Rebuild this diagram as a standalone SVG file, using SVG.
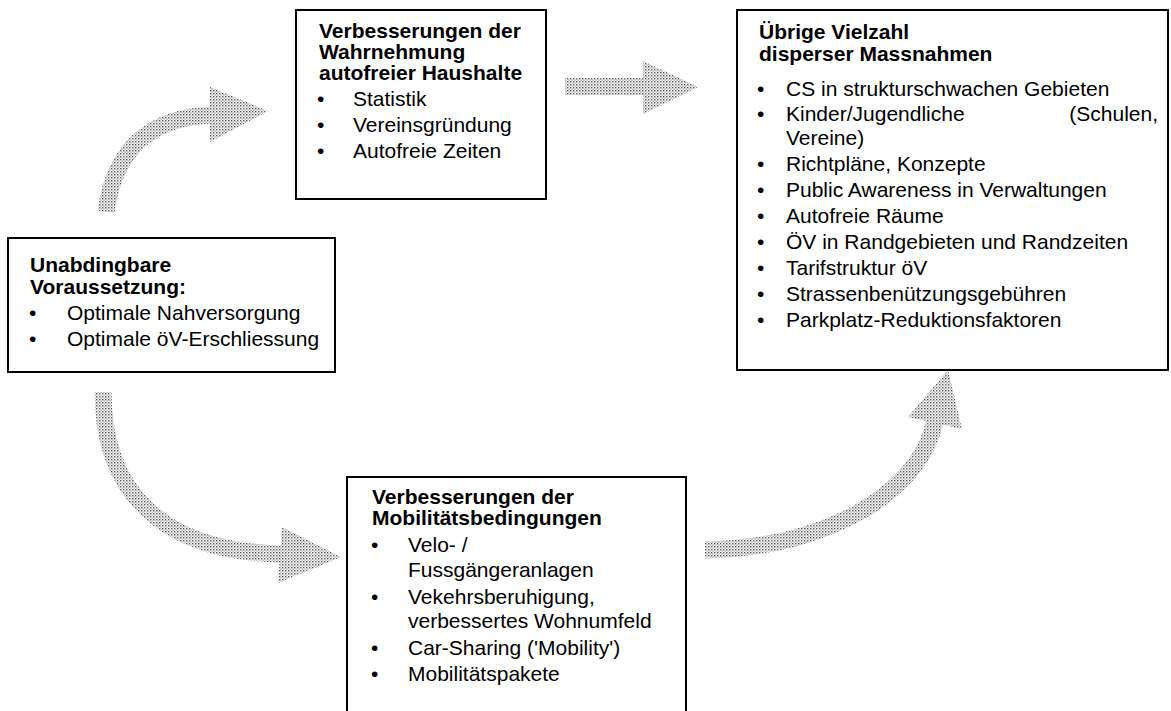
<svg xmlns="http://www.w3.org/2000/svg" width="1171" height="711" viewBox="0 0 1171 711">
  <defs>
    <!-- stippled screen used for the flow arrows -->
    <pattern id="stipple" width="3" height="3" patternUnits="userSpaceOnUse">
      <rect width="3" height="3" fill="#ffffff"/>
      <rect x="0" y="0" width="1.4" height="1.4" fill="#555"/>
      <rect x="1.5" y="1.5" width="1.2" height="1.2" fill="#888"/>
    </pattern>
    <style>
      .box { fill: #fff; stroke: #000; stroke-width: 2; }
      .t { font-family: "Liberation Sans", Arial, sans-serif; font-size: 21px; fill: #000; }
      .h { font-weight: bold; }
      .body { fill: none; stroke: url(#stipple); stroke-width: 17; }
      .head { fill: url(#stipple); stroke: none; }
    </style>
  </defs>

  <!-- flow arrows -->
  <g id="connectors">
    <path class="body" d="M106,212 C114,150 150,117 212,115"/>
    <polygon class="head" points="210,87 268,111 210,142"/>

    <path class="body" d="M565,86.5 L645,86.5"/>
    <polygon class="head" points="643,61 698,87 643,114"/>

    <path class="body" d="M103,392 C103,490 160,552 282,554"/>
    <polygon class="head" points="282,527 341,557 278,583"/>

    <path class="body" d="M705,550 C830,548 922,490 935,420"/>
    <polygon class="head" points="908,417 948,370 962,429"/>
  </g>

  <!-- prerequisite -->
  <g id="node-voraussetzung">
    <rect class="box" x="8" y="238" width="327" height="134"/>
    <text class="t h" x="30" y="272">Unabdingbare</text>
    <text class="t h" x="30" y="294">Voraussetzung:</text>
    <text class="t" x="29" y="320">•</text>
    <text class="t" x="67" y="320">Optimale Nahversorgung</text>
    <text class="t" x="29" y="346">•</text>
    <text class="t" x="67" y="346">Optimale öV-Erschliessung</text>
  </g>

  <!-- perception -->
  <g id="node-wahrnehmung">
    <rect class="box" x="296" y="10" width="250" height="189"/>
    <text class="t h" x="319" y="38">Verbesserungen der</text>
    <text class="t h" x="319" y="59">Wahrnehmung</text>
    <text class="t h" x="319" y="80">autofreier Haushalte</text>
    <text class="t" x="317" y="106">•</text>
    <text class="t" x="353" y="106">Statistik</text>
    <text class="t" x="317" y="132">•</text>
    <text class="t" x="353" y="132">Vereinsgründung</text>
    <text class="t" x="317" y="158">•</text>
    <text class="t" x="353" y="158">Autofreie Zeiten</text>
  </g>

  <!-- other measures -->
  <g id="node-massnahmen">
    <rect class="box" x="737" y="10" width="431" height="360"/>
    <text class="t h" x="759" y="39">Übrige Vielzahl</text>
    <text class="t h" x="759" y="61">disperser Massnahmen</text>
    <text class="t" x="757" y="96">•</text>
    <text class="t" x="786" y="96">CS in strukturschwachen Gebieten</text>
    <text class="t" x="757" y="121">•</text>
    <text class="t" x="786" y="121">Kinder/Jugendliche</text>
    <text class="t" x="1158" y="121" text-anchor="end">(Schulen,</text>
    <text class="t" x="786" y="145">Vereine)</text>
    <text class="t" x="757" y="171">•</text>
    <text class="t" x="786" y="171">Richtpläne, Konzepte</text>
    <text class="t" x="757" y="197">•</text>
    <text class="t" x="786" y="197">Public Awareness in Verwaltungen</text>
    <text class="t" x="757" y="223">•</text>
    <text class="t" x="786" y="223">Autofreie Räume</text>
    <text class="t" x="757" y="249">•</text>
    <text class="t" x="786" y="249">ÖV in Randgebieten und Randzeiten</text>
    <text class="t" x="757" y="275">•</text>
    <text class="t" x="786" y="275">Tarifstruktur öV</text>
    <text class="t" x="757" y="301">•</text>
    <text class="t" x="786" y="301">Strassenbenützungsgebühren</text>
    <text class="t" x="757" y="327">•</text>
    <text class="t" x="786" y="327">Parkplatz-Reduktionsfaktoren</text>
  </g>

  <!-- mobility conditions -->
  <g id="node-mobilitaet">
    <rect class="box" x="347" y="477" width="339" height="250"/>
    <text class="t h" x="372" y="504">Verbesserungen der</text>
    <text class="t h" x="372" y="525">Mobilitätsbedingungen</text>
    <text class="t" x="371" y="552">•</text>
    <text class="t" x="408" y="552">Velo- /</text>
    <text class="t" x="408" y="577">Fussgängeranlagen</text>
    <text class="t" x="371" y="604">•</text>
    <text class="t" x="408" y="604">Vekehrsberuhigung,</text>
    <text class="t" x="408" y="628">verbessertes Wohnumfeld</text>
    <text class="t" x="371" y="655">•</text>
    <text class="t" x="408" y="655">Car-Sharing ('Mobility')</text>
    <text class="t" x="371" y="681">•</text>
    <text class="t" x="408" y="681">Mobilitätspakete</text>
  </g>
</svg>
